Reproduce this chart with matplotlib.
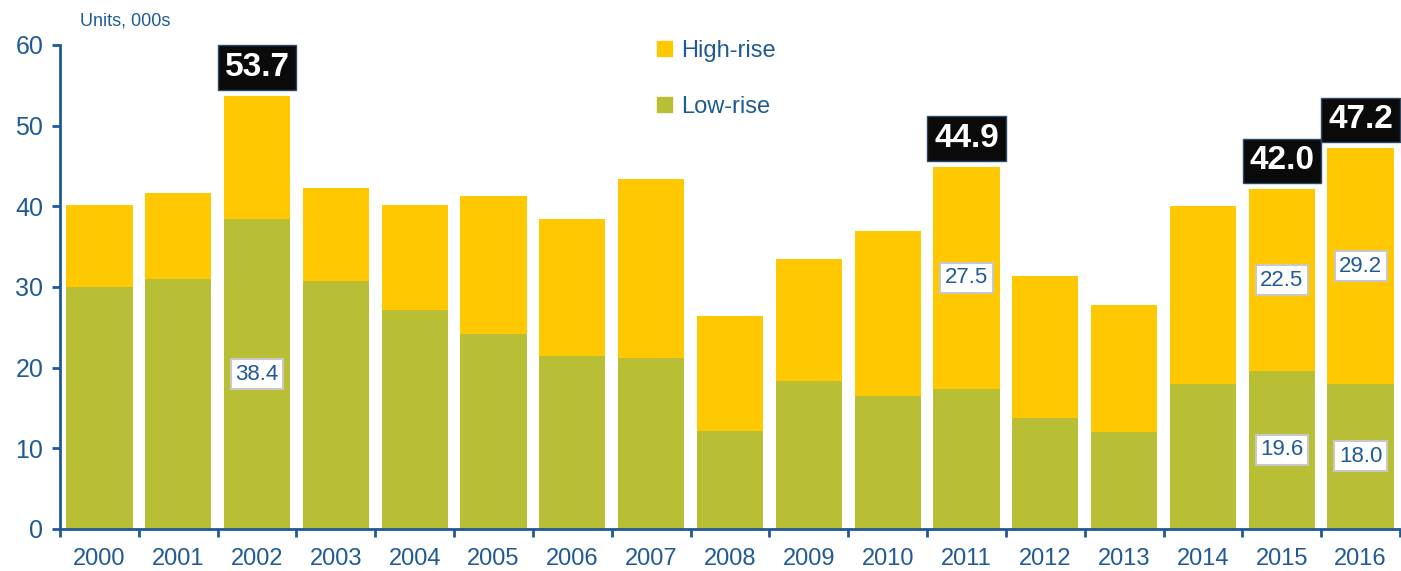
import numpy as np
import matplotlib.pyplot as plt
from matplotlib.patches import Patch

years = ['2000', '2001', '2002', '2003', '2004', '2005', '2006', '2007', '2008',
         '2009', '2010', '2011', '2012', '2013', '2014', '2015', '2016']
low_rise = [30.0, 31.0, 38.4, 30.8, 27.1, 24.2, 21.5, 21.2, 12.2,
            18.4, 16.5, 17.4, 13.8, 12.0, 18.0, 19.6, 18.0]
high_rise = [10.2, 10.6, 15.3, 11.5, 13.1, 17.1, 16.9, 22.2, 14.2,
             15.1, 20.5, 27.5, 17.6, 15.8, 22.0, 22.5, 29.2]
totals = {'2002': 53.7, '2011': 44.9, '2015': 42.0, '2016': 47.2}
low_labels = {'2002': 38.4, '2015': 19.6, '2016': 18.0}
high_labels = {'2011': 27.5, '2015': 22.5, '2016': 29.2}

blue = '#1F5A96'
c_low = '#B8BF35'
c_high = '#FFC800'

plt.rcParams['font.family'] = ['Liberation Sans', 'DejaVu Sans']

fig = plt.figure(figsize=(14.01, 5.71), dpi=100)
ax = fig.add_axes([60 / 1401, 1 - 529 / 571, 1340 / 1401, (529 - 45) / 571])

x = np.arange(len(years))
low = np.array(low_rise)
high = np.array(high_rise)
ax.bar(x, low, width=0.84, color=c_low, zorder=2)
ax.bar(x, high, width=0.84, bottom=low, color=c_high, zorder=2)

inner_box = dict(boxstyle='square,pad=0.2', fc='white', ec='#C8C8C8', lw=1.5)
for i, y in enumerate(years):
    if y in low_labels:
        ax.text(i, low[i] / 2, f'{low_labels[y]:.1f}', ha='center', va='center',
                fontsize=16, color=blue, bbox=inner_box, zorder=3)
    if y in high_labels:
        ax.text(i, low[i] + high[i] / 2, f'{high_labels[y]:.1f}', ha='center',
                va='center', fontsize=16, color=blue, bbox=inner_box, zorder=3)
    if y in totals:
        ax.text(i, low[i] + high[i] + 1.6, f'{totals[y]:.1f}', ha='center',
                va='bottom', fontsize=24, fontweight='bold', color='white',
                bbox=dict(boxstyle='square,pad=0.2', fc='#0A0A0A', ec='#2A4A6A', lw=1),
                zorder=3)

ax.set_xlim(-0.5, len(years) - 0.5)
ax.set_ylim(0, 60)
ax.set_yticks(range(0, 61, 10))
ax.set_xticks(x)
ax.set_xticklabels(years)
ax.set_xticks(np.arange(-0.5, len(years)), minor=True)
ax.tick_params(axis='x', which='major', length=0, pad=14, labelsize=17, labelcolor=blue)
ax.tick_params(axis='x', which='minor', length=6, width=2, color=blue, direction='out')
ax.tick_params(axis='y', length=6, width=2, color=blue, labelsize=18, labelcolor=blue, pad=6)

for s in ['top', 'right']:
    ax.spines[s].set_visible(False)
for s in ['left', 'bottom']:
    ax.spines[s].set_color(blue)
    ax.spines[s].set_linewidth(2)

fig.text(80 / 1401, 1 - 21 / 571, 'Units, 000s', fontsize=13, color=blue, va='center')

handles = [Patch(color=c_high, label='High-rise'), Patch(color=c_low, label='Low-rise')]
leg = ax.legend(handles=handles, loc='upper left', bbox_to_anchor=(0.43, 1.055),
                frameon=False, fontsize=17, labelspacing=1.45, handlelength=0.6,
                handleheight=0.6, handletextpad=0.4)
for t in leg.get_texts():
    t.set_color(blue)

fig.savefig('out.png', dpi=100)
